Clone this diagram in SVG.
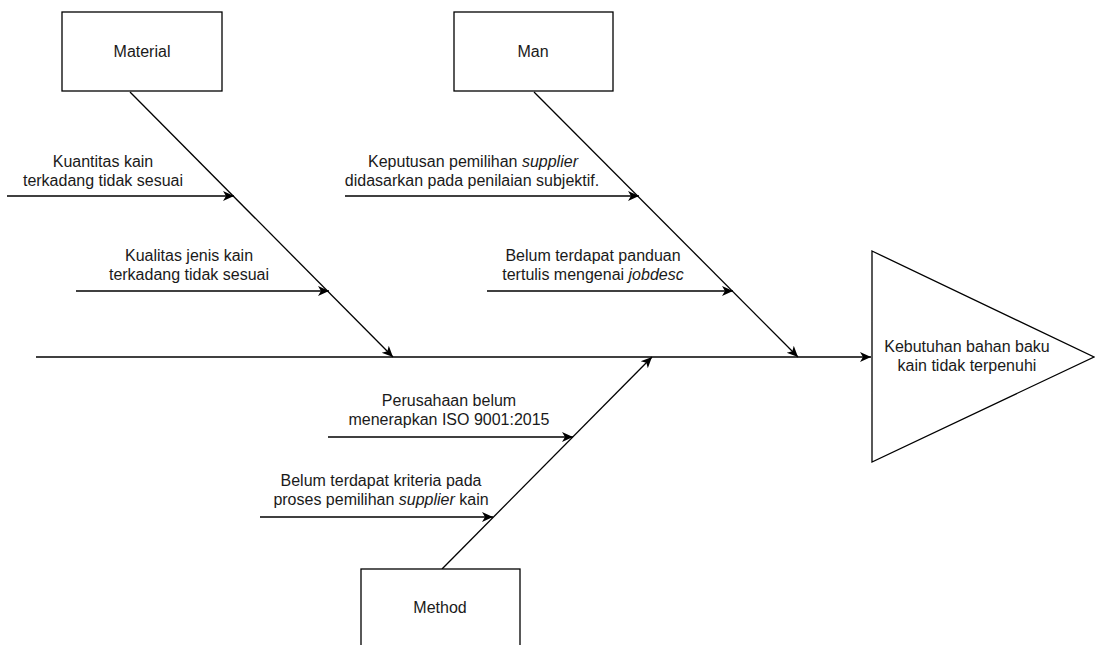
<svg xmlns="http://www.w3.org/2000/svg" width="1095" height="645" viewBox="0 0 1095 645">
<style>
text{font-family:"Liberation Sans",Arial,sans-serif;font-size:16px;fill:#1a1a1a;text-anchor:middle}
.box{fill:#fff;stroke:#000;stroke-width:1.3}
.ln{fill:none;stroke:#000;stroke-width:1.3}
.arr{marker-end:url(#ah)}
.it{font-style:italic}
</style>
<defs>
<marker id="ah" markerUnits="userSpaceOnUse" markerWidth="12" markerHeight="12" viewBox="0 0 12 12" refX="11" refY="6" orient="auto">
<path d="M0,1 L11,6 L0,11 L3,6 z" fill="#000"/>
</marker>
</defs>
<g id="connectors">
<line class="ln arr" x1="36" y1="357" x2="871" y2="357"/>
<line class="ln arr" x1="130" y1="92" x2="393" y2="357"/>
<line class="ln arr" x1="534" y1="92" x2="798" y2="357"/>
<line class="ln arr" x1="442" y1="569" x2="652" y2="357"/>
<line class="ln arr" x1="7" y1="196" x2="234" y2="196"/>
<line class="ln arr" x1="76" y1="291" x2="329" y2="291"/>
<line class="ln arr" x1="345" y1="196" x2="639" y2="196"/>
<line class="ln arr" x1="487" y1="291" x2="733" y2="291"/>
<line class="ln arr" x1="328" y1="437" x2="573" y2="437"/>
<line class="ln arr" x1="260" y1="517" x2="493" y2="517"/>
</g>
<g id="material">
<rect class="box" x="62" y="12" width="160" height="79"/>
<text x="142" y="57">Material</text>
</g>
<g id="man">
<rect class="box" x="454" y="12" width="159" height="79"/>
<text x="533" y="57">Man</text>
</g>
<g id="method">
<rect class="box" x="361" y="569" width="159" height="82"/>
<text x="440" y="613">Method</text>
</g>
<g id="effect">
<polygon class="box" points="872,251 1094,357 872,462"/>
<text x="967" y="352">Kebutuhan bahan baku</text>
<text x="967" y="371">kain tidak terpenuhi</text>
</g>
<g id="cause-kuantitas">
<text x="103" y="167">Kuantitas kain</text>
<text x="103" y="186">terkadang tidak sesuai</text>
</g>
<g id="cause-kualitas">
<text x="189" y="261">Kualitas jenis kain</text>
<text x="189" y="280">terkadang tidak sesuai</text>
</g>
<g id="cause-keputusan">
<text x="473" y="167">Keputusan pemilihan <tspan class="it">supplier</tspan></text>
<text x="472" y="186">didasarkan pada penilaian subjektif.</text>
</g>
<g id="cause-panduan">
<text x="593" y="261">Belum terdapat panduan</text>
<text x="593" y="280">tertulis mengenai <tspan class="it">jobdesc</tspan></text>
</g>
<g id="cause-iso">
<text x="449" y="406">Perusahaan belum</text>
<text x="449" y="425">menerapkan ISO 9001:2015</text>
</g>
<g id="cause-kriteria">
<text x="381" y="486">Belum terdapat kriteria pada</text>
<text x="381" y="505">proses pemilihan <tspan class="it">supplier</tspan> kain</text>
</g>
</svg>
